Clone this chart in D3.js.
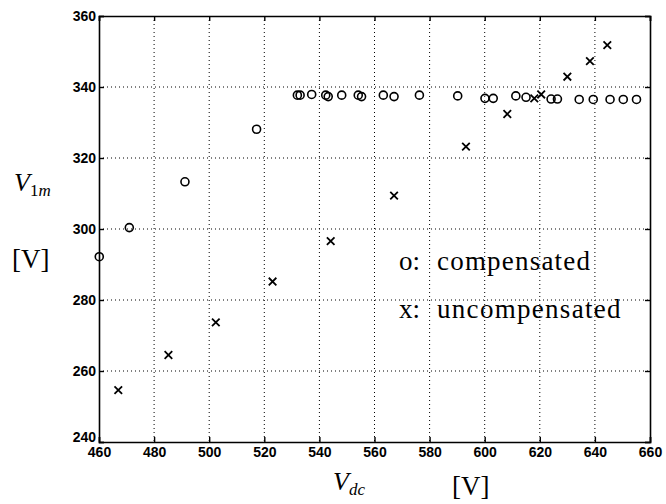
<!DOCTYPE html>
<html><head><meta charset="utf-8">
<script src="https://cdn.jsdelivr.net/npm/d3@7"></script>
<style>body{margin:0;background:#fff}svg{display:block}</style>
</head><body>
<svg id="c" width="666" height="504"></svg>
<script>
const xTicks = [460,480,500,520,540,560,580,600,620,640,660];
const yTicks = [240,260,280,300,320,340,360];
const compX = [460.1,471.0,491.2,517.2,532.0,533.0,537.2,542.3,543.2,548.1,554.1,555.3,563.2,567.1,576.3,590.2,600.1,603.1,611.3,615.0,624.1,626.4,634.3,639.4,645.5,650.3,655.1];
const compY = [292.2,300.4,313.3,328.1,337.7,337.7,337.9,337.7,337.3,337.7,337.7,337.3,337.7,337.3,337.7,337.5,336.8,336.8,337.5,337.1,336.6,336.6,336.5,336.5,336.5,336.5,336.5];
const uncX = [467.0,485.2,502.4,523.0,544.1,567.1,593.2,608.2,618.0,620.5,630.0,638.2,644.5];
const uncY = [254.6,264.5,273.7,285.2,296.6,309.4,323.2,332.4,336.8,337.9,342.9,347.3,351.8];

const svg = d3.select("#c");
const L=99,R=650,T=16,B=442;
const x = d3.scaleLinear().domain([460,660]).range([L,R]);
const y = d3.scaleLinear().domain([240,360]).range([B,T]);

// grid
const g = svg.append("g");
g.selectAll(".gx").data(xTicks.slice(1,-1)).enter().append("line")
 .attr("x1",d=>x(d)).attr("x2",d=>x(d)).attr("y1",T).attr("y2",B)
 .attr("stroke","#000").attr("stroke-width",1).attr("stroke-dasharray","1,3");
g.selectAll(".gy").data(yTicks.slice(1,-1)).enter().append("line")
 .attr("y1",d=>y(d)).attr("y2",d=>y(d)).attr("x1",L).attr("x2",R)
 .attr("stroke","#000").attr("stroke-width",1).attr("stroke-dasharray","1,3");

// axes
const fnt = "'Liberation Sans', Arial, sans-serif";
const ax = svg.append("g").attr("transform",`translate(0,${B})`)
 .call(d3.axisBottom(x).tickValues(xTicks).tickSize(-5).tickPadding(9).tickFormat(d3.format("d")));
const ay = svg.append("g").attr("transform",`translate(${L},0)`)
 .call(d3.axisLeft(y).tickValues(yTicks).tickSize(-5).tickPadding(3).tickFormat(d3.format("d")));
const at = svg.append("g").attr("transform",`translate(0,${T})`)
 .call(d3.axisTop(x).tickValues(xTicks).tickSize(-5).tickFormat(""));
const ar = svg.append("g").attr("transform",`translate(${R},0)`)
 .call(d3.axisRight(y).tickValues(yTicks).tickSize(-5).tickFormat(""));
[ax,ay,at,ar].forEach(a=>{
  a.select(".domain").attr("stroke","#000").attr("stroke-width",1.6);
  a.selectAll(".tick line").attr("stroke","#000").attr("stroke-width",1.4);
  a.selectAll("text").attr("font-family",fnt).attr("font-weight","bold").attr("font-size",14).attr("fill","#000");
});
ax.selectAll("text").attr("dy","0.45em");
ay.selectAll(".tick").filter(d=>d===240).select("text").attr("dy","-0.05em");

// compensated circles
svg.append("g").selectAll("circle").data(compX.map((v,i)=>[v,compY[i]])).enter().append("circle")
 .attr("cx",d=>x(d[0])).attr("cy",d=>y(d[1])).attr("r",4)
 .attr("fill","none").attr("stroke","#000").attr("stroke-width",1.6);

// uncompensated crosses
const s=3.8;
svg.append("g").selectAll("path").data(uncX.map((v,i)=>[v,uncY[i]])).enter().append("path")
 .attr("d",d=>{const cx=x(d[0]),cy=y(d[1]);return `M${cx-s},${cy-s}L${cx+s},${cy+s}M${cx-s},${cy+s}L${cx+s},${cy-s}`;})
 .attr("stroke","#000").attr("stroke-width",1.8).attr("fill","none");

// legend text
const serif="'Liberation Serif','Times New Roman',serif";
const l1 = svg.append("text").attr("y",270).attr("font-family",serif).attr("font-size",27);
l1.append("tspan").attr("x",399).text("o:");
l1.append("tspan").attr("x",437).attr("letter-spacing",1.2).text("compensated");
const l2 = svg.append("text").attr("y",318).attr("font-family",serif).attr("font-size",27);
l2.append("tspan").attr("x",399).text("x:");
l2.append("tspan").attr("x",437).attr("letter-spacing",1.3).text("uncompensated");

// axis labels
const yl = svg.append("text").attr("x",14).attr("y",191).attr("font-family",serif).attr("font-size",26);
yl.append("tspan").attr("font-style","italic").text("V");
yl.append("tspan").attr("font-size",17).attr("dy",5).text("1");
yl.append("tspan").attr("font-size",17).attr("font-style","italic").text("m");
svg.append("text").attr("x",12).attr("y",268).attr("font-family",serif).attr("font-size",27).text("[V]");

const xl = svg.append("text").attr("x",333).attr("y",490).attr("font-family",serif).attr("font-size",26);
xl.append("tspan").attr("font-style","italic").text("V");
xl.append("tspan").attr("font-size",17).attr("dy",5).attr("font-style","italic").text("dc");
svg.append("text").attr("x",452).attr("y",495).attr("font-family",serif).attr("font-size",27).text("[V]");
</script>
</body></html>
